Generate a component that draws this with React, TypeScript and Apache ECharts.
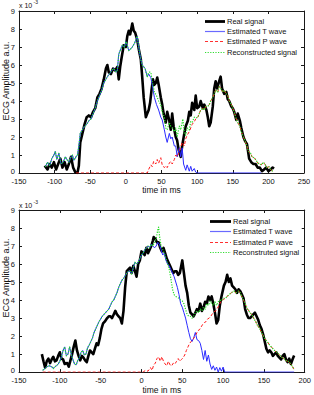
import React, { useEffect, useRef } from "react";
import * as echarts from "echarts";

type P = [number, number];

// ---------- top panel ----------
const topXTicks = { min: -150, max: 250, interval: 50 };
const topReal: P[] = [
  [-114, 0.4], [-110, 0.2], [-107, 0.5], [-104, 0.3], [-101, 0.6], [-98, 0.2], [-95, 0.5], [-92, 0.8],
  [-89, 0.3], [-86, 0.6], [-83, 0.2], [-80, 0.5], [-77, 0.9], [-74, 0.3], [-71, 0.05], [-68, 0.0],
  [-66, 0.4], [-64, 1.7], [-61, 2.2], [-58, 2.7], [-55, 3.1], [-52, 3.2], [-49, 3.1], [-46, 3.4],
  [-43, 3.6], [-40, 4.2], [-37, 4.4], [-34, 4.7], [-31, 5.2], [-28, 5.8], [-26, 6.0], [-24, 5.6],
  [-21, 5.5], [-18, 5.8], [-15, 5.7], [-12, 5.9], [-10, 5.2], [-8, 5.9], [-6, 6.4], [-3, 7.1],
  [0, 7.0], [2, 7.6], [4, 7.9], [6, 7.7], [9, 8.3], [11, 7.9], [13, 7.8], [16, 7.4], [18, 6.9],
  [21, 6.3], [23, 5.3], [25, 4.2], [28, 3.1], [30, 3.3], [32, 3.5], [34, 3.9], [36, 4.6], [38, 5.2],
  [40, 4.9], [42, 5.0], [44, 5.3], [46, 4.9], [49, 4.2], [51, 3.8], [53, 3.3], [56, 2.8], [58, 3.4],
  [61, 2.9], [63, 2.4], [65, 3.3], [67, 2.6], [70, 2.0], [72, 1.8], [74, 1.3], [77, 0.9], [79, 1.5],
  [82, 2.2], [84, 2.6], [87, 2.9], [89, 3.4], [91, 3.2], [93, 3.9], [96, 3.5], [98, 4.3], [100, 3.6],
  [103, 3.7], [105, 4.0], [108, 3.6], [110, 3.8], [113, 3.5], [115, 3.1], [117, 2.6], [119, 2.8],
  [122, 3.7], [124, 4.7], [126, 5.1], [128, 4.7], [131, 5.1], [133, 5.35], [135, 4.7], [138, 4.4],
  [141, 4.5], [143, 4.1], [145, 4.0], [148, 3.7], [150, 3.6], [152, 3.4], [155, 2.95], [157, 3.3],
  [160, 2.9], [162, 2.5], [165, 2.0], [167, 1.8], [170, 1.6], [173, 0.8], [176, 0.6], [179, 0.5],
  [182, 0.5], [185, 0.3], [188, 0.3], [191, 0.1], [194, 0.2], [197, 0.3], [200, 0.1], [203, 0.2],
  [206, 0.3], [208, 0.25],
];
const topTWave: P[] = [
  [-113, 0.35], [-110, 0.6], [-107, 0.4], [-104, 0.8], [-101, 1.0], [-99, 1.2], [-97, 0.75], [-94, 1.1],
  [-91, 0.5], [-88, 0.6], [-85, 0.9], [-82, 0.7], [-80, 0.6], [-77, 0.9], [-75, 1.0], [-73, 0.7],
  [-70, 0.9], [-68, 1.0], [-66, 1.5], [-64, 2.2], [-61, 2.4], [-58, 2.6], [-55, 2.7], [-52, 2.9],
  [-49, 3.0], [-46, 3.3], [-43, 3.6], [-40, 4.0], [-37, 4.3], [-34, 4.6], [-31, 5.0], [-28, 5.2],
  [-26, 5.35], [-23, 5.5], [-20, 5.7], [-17, 5.8], [-14, 5.6], [-12, 5.7], [-10, 6.6], [-7, 6.9],
  [-5, 7.1], [-2, 7.0], [0, 7.3], [2, 7.1], [4, 6.8], [7, 6.9], [9, 7.0], [12, 7.2], [14, 7.4],
  [16, 7.6], [18, 7.0], [21, 6.3], [23, 6.0], [25, 5.9], [27, 5.8], [30, 5.35], [32, 5.5], [35, 5.3],
  [37, 4.9], [40, 4.2], [43, 3.8], [46, 3.5], [49, 3.1], [51, 2.95], [54, 2.4], [56, 2.0], [58, 1.7],
  [61, 2.2], [63, 1.9], [65, 2.0], [68, 1.5], [70, 1.5], [72, 0.9], [75, 1.4], [77, 0.9], [79, 1.4],
  [81, 0.5], [84, 0.15], [86, 0.45], [89, 0.1], [91, 0.37], [93, 0.1], [96, 0.25], [98, 0.05],
  [100, 0], [190, 0],
];
const topPWave: P[] = [
  [-70, 0], [30, 0], [32, 0.2], [35, 0.45], [37, 0.35], [39, 0.65], [42, 0.5], [44, 0.75], [46, 0.55],
  [49, 0.85], [51, 0.45], [54, 0.3], [56, 0.4], [58, 0.3], [61, 0.55], [63, 0.65], [65, 0.5], [68, 0.75],
  [70, 1.0], [72, 0.9], [75, 1.2], [77, 1.45], [79, 1.7], [82, 1.5], [84, 1.9], [86, 2.1], [89, 2.3],
  [91, 2.5], [93, 2.7], [96, 2.85], [98, 3.0], [101, 3.1], [103, 3.3], [105, 3.5], [108, 3.6], [110, 3.5],
  [112, 3.7], [115, 3.7], [117, 3.8], [119, 4.0], [122, 4.2], [124, 4.4], [126, 4.6], [129, 4.5],
  [131, 4.8], [133, 4.7], [136, 4.5], [138, 4.6], [141, 4.4], [143, 4.3], [145, 4.0], [148, 3.8],
  [150, 3.6], [152, 3.4], [155, 3.0], [157, 2.8], [160, 2.6], [162, 2.3], [165, 2.0], [167, 1.8],
  [170, 1.5], [172, 1.2], [175, 1.1], [177, 0.9], [180, 0.85], [183, 0.7], [185, 0.55], [188, 0.5],
  [190, 0.45], [193, 0.6], [195, 0.5], [198, 0.3], [201, 0.35], [203, 0.2], [206, 0.1],
];
const topRecon: P[] = [
  [-113, 0.35], [-110, 0.6], [-107, 0.4], [-104, 0.8], [-101, 1.0], [-99, 1.2], [-97, 0.75], [-94, 1.1],
  [-91, 0.5], [-88, 0.6], [-85, 0.9], [-82, 0.7], [-80, 0.6], [-77, 0.9], [-75, 1.0], [-73, 0.7],
  [-70, 0.9], [-68, 1.0], [-66, 1.5], [-64, 2.2], [-61, 2.4], [-58, 2.6], [-55, 2.7], [-52, 2.9],
  [-49, 3.0], [-46, 3.3], [-43, 3.6], [-40, 4.0], [-37, 4.3], [-34, 4.6], [-31, 5.0], [-28, 5.2],
  [-26, 5.35], [-23, 5.5], [-20, 5.7], [-17, 5.8], [-14, 5.6], [-12, 5.7], [-10, 6.6], [-7, 6.9],
  [-5, 7.1], [-2, 7.0], [0, 7.3], [2, 7.1], [4, 6.8], [7, 6.9], [9, 7.0], [12, 7.2], [14, 7.4],
  [16, 7.6], [18, 7.0], [21, 6.3], [23, 6.0], [25, 5.9], [27, 5.8], [30, 5.35], [32, 5.6], [35, 5.6],
  [37, 5.1], [40, 4.5], [43, 4.3], [46, 4.0], [49, 3.8], [51, 3.4], [54, 3.1], [56, 2.5], [58, 2.4],
  [61, 2.8], [63, 2.6], [65, 2.5], [68, 2.3], [70, 2.5], [72, 2.0], [75, 2.6], [77, 2.4], [80, 3.0],
  [82, 2.2], [84, 2.1], [86, 2.5], [89, 2.4], [91, 2.85], [93, 2.8], [96, 3.1], [98, 3.05], [101, 3.1],
  [103, 3.3], [105, 3.5], [108, 3.6], [110, 3.5], [112, 3.7], [115, 3.7], [117, 3.8], [119, 4.0],
  [122, 4.2], [124, 4.4], [126, 4.6], [129, 4.5], [131, 4.8], [133, 4.7], [136, 4.5], [138, 4.6],
  [141, 4.4], [143, 4.3], [145, 4.0], [148, 3.8], [150, 3.6], [152, 3.4], [155, 3.0], [157, 2.8],
  [160, 2.6], [162, 2.3], [165, 2.0], [167, 1.8], [170, 1.5], [172, 1.2], [175, 1.1], [177, 0.9],
  [180, 0.85], [183, 0.7], [185, 0.55], [188, 0.5], [190, 0.45], [193, 0.6], [195, 0.5], [198, 0.3],
  [201, 0.35], [203, 0.2], [206, 0.1],
];

// ---------- bottom panel ----------
const botXTicks = { min: -150, max: 200, interval: 50 };
const botReal: P[] = [
  [-122, 1.0], [-120, 0.6], [-118, 0.25], [-116, 0.6], [-114, 0.75], [-112, 0.5], [-110, 0.7], [-108, 0.85],
  [-106, 0.6], [-104, 0.65], [-102, 0.9], [-100, 1.1], [-98, 0.75], [-96, 0.7], [-94, 0.45], [-91, 0.5],
  [-89, 0.3], [-87, 0.65], [-85, 1.0], [-83, 1.4], [-81, 1.75], [-79, 1.2], [-77, 0.9], [-75, 0.65],
  [-73, 0.9], [-71, 0.8], [-69, 0.65], [-67, 0.55], [-65, 0.9], [-63, 1.2], [-61, 1.1], [-59, 1.0],
  [-57, 1.3], [-55, 1.6], [-53, 1.5], [-51, 1.9], [-49, 2.4], [-47, 2.7], [-45, 2.8], [-42, 3.0],
  [-40, 3.1], [-38, 3.1], [-36, 3.0], [-34, 3.2], [-32, 3.4], [-30, 3.2], [-28, 3.1], [-26, 3.0],
  [-24, 2.7], [-22, 3.4], [-20, 4.7], [-18, 5.6], [-16, 5.7], [-14, 5.8], [-12, 5.5], [-10, 5.9],
  [-8, 5.6], [-6, 5.3], [-4, 6.0], [-2, 6.2], [0, 6.7], [2, 6.6], [4, 6.5], [6, 6.9], [8, 6.6],
  [10, 6.8], [12, 7.0], [14, 7.3], [15, 7.5], [17, 7.4], [19, 7.2], [21, 7.2], [23, 6.9], [25, 6.7],
  [27, 6.9], [29, 6.6], [31, 6.3], [33, 6.1], [35, 5.9], [37, 5.7], [39, 5.5], [41, 5.6], [43, 5.6],
  [45, 5.4], [47, 5.5], [50, 6.2], [52, 5.5], [54, 4.8], [56, 4.4], [58, 3.7], [60, 3.3], [62, 3.2],
  [64, 3.1], [66, 3.3], [68, 3.5], [70, 3.4], [72, 3.8], [74, 3.4], [76, 3.6], [78, 3.9], [80, 3.8],
  [82, 4.2], [84, 4.0], [86, 4.2], [88, 3.8], [90, 3.3], [92, 2.7], [94, 2.9], [96, 3.7], [98, 4.2],
  [101, 4.8], [103, 5.0], [105, 5.4], [107, 5.0], [109, 5.2], [111, 4.8], [113, 4.7], [115, 4.6],
  [117, 4.4], [119, 4.6], [121, 4.5], [123, 4.3], [125, 4.1], [127, 3.5], [129, 3.2], [131, 3.0],
  [133, 3.0], [135, 3.1], [137, 3.2], [139, 3.3], [141, 3.1], [143, 2.9], [145, 2.6], [147, 2.4],
  [149, 2.1], [151, 1.7], [153, 1.3], [155, 1.1], [157, 1.2], [159, 1.1], [161, 0.9], [163, 1.0],
  [165, 1.1], [167, 0.9], [169, 0.8], [171, 0.7], [173, 0.9], [175, 1.0], [177, 0.7], [179, 0.55],
  [181, 0.75], [183, 0.45], [185, 0.7], [187, 0.92],
];
const botTWave: P[] = [
  [-121, 0.1], [-118, 0.2], [-116, 0.3], [-113, 0.35], [-110, 0.3], [-108, 0.2], [-106, 0.3], [-104, 0.35],
  [-102, 0.45], [-100, 0.6], [-98, 0.85], [-96, 1.2], [-94, 1.4], [-92, 0.9], [-90, 1.0], [-88, 1.4],
  [-86, 1.0], [-84, 0.7], [-82, 0.45], [-80, 0.4], [-78, 0.65], [-76, 0.8], [-74, 1.1], [-72, 1.2],
  [-70, 0.95], [-68, 1.0], [-66, 1.35], [-64, 1.5], [-62, 1.7], [-60, 1.9], [-58, 2.2], [-56, 2.4],
  [-54, 2.6], [-52, 2.8], [-50, 2.95], [-48, 3.1], [-46, 3.2], [-44, 3.3], [-42, 3.4], [-40, 3.5],
  [-38, 3.7], [-36, 3.9], [-34, 4.0], [-32, 4.2], [-30, 4.4], [-28, 4.7], [-26, 4.9], [-24, 5.1],
  [-22, 5.2], [-20, 5.35], [-18, 5.5], [-16, 5.6], [-14, 5.6], [-12, 5.45], [-10, 5.8], [-8, 6.1],
  [-6, 6.0], [-4, 6.1], [-2, 6.3], [0, 6.5], [2, 6.6], [4, 6.8], [6, 6.9], [8, 7.0], [10, 6.9],
  [12, 7.1], [14, 7.0], [16, 6.9], [18, 7.0], [20, 7.2], [22, 7.1], [24, 6.8], [26, 6.5], [28, 6.6],
  [30, 6.2], [32, 6.0], [34, 5.9], [36, 5.7], [38, 5.5], [40, 5.3], [42, 5.0], [44, 4.7], [46, 4.3],
  [48, 3.8], [50, 3.6], [52, 3.3], [54, 3.0], [56, 2.6], [58, 2.2], [60, 1.85], [62, 1.7], [64, 1.9],
  [66, 2.2], [68, 1.8], [70, 1.75], [72, 1.6], [74, 1.2], [76, 0.7], [78, 1.2], [80, 0.6], [82, 0.95],
  [84, 0.45], [86, 0.15], [88, 0.35], [90, 0.1], [92, 0.28], [94, 0.0], [96, 0.25], [98, 0.05],
  [100, 0.28], [102, 0], [187, 0],
];
const botPWave: P[] = [
  [-121, 0], [2, 0], [5, 0.1], [8, 0.05], [11, 0.25], [13, 0.1], [15, 0.4], [17, 0.5], [19, 0.75],
  [21, 0.85], [23, 0.6], [25, 0.85], [27, 0.6], [29, 0.45], [31, 0.35], [33, 0.6], [35, 0.4], [37, 0.35],
  [39, 0.5], [41, 0.45], [43, 0.6], [45, 0.75], [47, 0.6], [49, 0.7], [51, 0.8], [53, 0.95], [55, 1.2],
  [57, 1.4], [59, 1.6], [61, 1.7], [63, 1.8], [65, 1.95], [67, 2.1], [69, 2.3], [71, 2.35], [73, 2.5],
  [75, 2.65], [77, 2.75], [79, 2.8], [81, 2.95], [83, 3.0], [85, 3.1], [87, 3.25], [89, 3.35], [91, 3.4],
  [93, 3.55], [95, 3.7], [97, 3.9], [99, 3.95], [101, 4.05], [104, 4.15], [107, 4.3], [110, 4.4],
  [113, 4.5], [116, 4.4], [119, 4.5], [121, 4.4], [123, 4.2], [126, 3.9], [128, 3.7], [130, 3.5],
  [133, 3.3], [135, 3.2], [138, 2.95], [140, 2.8], [142, 2.6], [145, 2.4], [147, 2.2], [150, 1.95],
  [152, 1.8], [154, 1.7], [157, 1.5], [159, 1.4], [162, 1.25], [164, 1.15], [166, 1.1], [169, 0.95],
  [171, 0.85], [173, 0.8], [176, 0.7], [178, 0.6], [180, 0.6], [183, 0.45], [185, 0.3], [187, 0.15],
];
const botRecon: P[] = [
  [-121, 0.1], [-118, 0.2], [-116, 0.3], [-113, 0.35], [-110, 0.3], [-108, 0.2], [-106, 0.3], [-104, 0.35],
  [-102, 0.45], [-100, 0.6], [-98, 0.85], [-96, 1.2], [-94, 1.4], [-92, 0.9], [-90, 1.0], [-88, 1.4],
  [-86, 1.0], [-84, 0.7], [-82, 0.45], [-80, 0.4], [-78, 0.65], [-76, 0.8], [-74, 1.1], [-72, 1.2],
  [-70, 0.95], [-68, 1.0], [-66, 1.35], [-64, 1.5], [-62, 1.7], [-60, 1.9], [-58, 2.2], [-56, 2.4],
  [-54, 2.6], [-52, 2.8], [-50, 2.95], [-48, 3.1], [-46, 3.2], [-44, 3.3], [-42, 3.4], [-40, 3.5],
  [-38, 3.7], [-36, 3.9], [-34, 4.0], [-32, 4.2], [-30, 4.4], [-28, 4.7], [-26, 4.9], [-24, 5.1],
  [-22, 5.2], [-20, 5.35], [-18, 5.5], [-16, 5.6], [-14, 5.6], [-12, 5.45], [-10, 5.8], [-8, 6.1],
  [-6, 6.0], [-4, 6.1], [-2, 6.3], [0, 6.5], [2, 6.6], [4, 6.8], [6, 6.9], [8, 7.0], [10, 6.9],
  [12, 7.1], [14, 7.0], [16, 7.2], [18, 7.4], [20, 7.9], [21, 8.05], [22, 7.6], [24, 7.0], [26, 6.8],
  [28, 6.6], [30, 6.3], [32, 6.0], [34, 5.7], [36, 5.2], [38, 4.6], [40, 4.3], [42, 4.2], [44, 4.15],
  [46, 4.1], [48, 4.0], [50, 3.95], [52, 3.8], [54, 3.5], [56, 3.2], [58, 3.1], [60, 3.1], [62, 3.0],
  [64, 3.1], [66, 3.3], [68, 3.4], [70, 3.3], [72, 3.5], [74, 3.4], [76, 3.6], [78, 3.5], [80, 3.8],
  [82, 3.7], [84, 3.95], [86, 3.8], [88, 3.7], [90, 3.9], [92, 3.7], [94, 3.9], [96, 4.0], [98, 3.95],
  [100, 4.1], [102, 4.1], [104, 4.15], [107, 4.3], [110, 4.4], [113, 4.5], [116, 4.4], [119, 4.5],
  [121, 4.4], [123, 4.2], [126, 3.9], [128, 3.7], [130, 3.5], [133, 3.3], [135, 3.2], [138, 2.95],
  [140, 2.8], [142, 2.6], [145, 2.4], [147, 2.2], [150, 1.95], [152, 1.8], [154, 1.7], [157, 1.5],
  [159, 1.4], [162, 1.25], [164, 1.15], [166, 1.1], [169, 0.95], [171, 0.85], [173, 0.8], [176, 0.7],
  [178, 0.6], [180, 0.6], [183, 0.45], [185, 0.3], [187, 0.15],
];

const yTicks = { min: 0, max: 9, interval: 1 };
const topLegend = ["Real signal", "Estimated T wave", "Estimated P wave", "Reconstructed signal"];
const botLegend = ["Real signal", "Estimated T wave", "Estimated P wave", "Reconstruted signal"];
const xTitle = "time in ms";
const yTitle = "ECG Amplitude a.u.";

const FONT = "'Liberation Sans', Arial, Helvetica, sans-serif";
const AX = "#1a1a1a";

const styles = [
  { color: "#000000", width: 2.6, type: "solid" as any, legend: "#000000" },
  { color: "#2b2bff", width: 1, type: "solid" as any, legend: "#6a6aff" },
  { color: "#ff1a1a", width: 1, type: [3, 2] as any, legend: "#ff3030" },
  { color: "#22dd22", width: 1.2, type: [1.2, 1.4] as any, legend: "#33dd33" },
];

export default function App() {
  const ref = useRef<HTMLDivElement>(null);
  useEffect(() => {
    const chart = echarts.init(ref.current!, null, { renderer: "svg" });
    const grids = [
      { left: 19, top: 11, width: 285, height: 162 },
      { left: 19, top: 210, width: 287, height: 163 },
    ];
    const xr = [topXTicks, botXTicks];
    const xAxis: any[] = [];
    const yAxis: any[] = [];
    [0, 1].forEach((g) => {
      xAxis.push({
        type: "value", gridIndex: g, position: "bottom", ...xr[g],
        axisLine: { show: true, onZero: false, lineStyle: { color: AX, width: 1 } },
        axisTick: { show: true, inside: true, length: 3, lineStyle: { color: AX } },
        axisLabel: { show: true, fontSize: 7.5, lineHeight: 8, color: "#111", margin: 4, fontFamily: FONT },
        splitLine: { show: false },
        name: xTitle, nameLocation: "middle", nameGap: g === 0 ? 12.5 : 11.5,
        nameTextStyle: { fontSize: 8.5, color: "#111", fontFamily: FONT },
      });
      xAxis.push({
        type: "value", gridIndex: g, position: "top", ...xr[g],
        axisLine: { show: true, onZero: false, lineStyle: { color: AX, width: 1 } },
        axisTick: { show: true, inside: true, length: 3, lineStyle: { color: AX } },
        axisLabel: { show: false }, splitLine: { show: false },
      });
      yAxis.push({
        type: "value", gridIndex: g, position: "left", ...yTicks,
        axisLine: { show: true, onZero: false, lineStyle: { color: AX, width: 1 } },
        axisTick: { show: true, inside: true, length: 3, lineStyle: { color: AX } },
        axisLabel: {
          show: true, fontSize: 7.5, lineHeight: 7, color: "#111", margin: 4, fontFamily: FONT,
          formatter: (v: number) => (v === 0 ? "{z|0}" : String(v)),
          rich: { z: { fontSize: 7.5, lineHeight: 7, color: "#111", fontFamily: FONT, padding: [0, 0, 3, 0] } },
        },
        splitLine: { show: false },
      });
      yAxis.push({
        type: "value", gridIndex: g, position: "right", ...yTicks,
        axisLine: { show: true, onZero: false, lineStyle: { color: AX, width: 1 } },
        axisTick: { show: true, inside: true, length: 3, lineStyle: { color: AX } },
        axisLabel: { show: false }, splitLine: { show: false },
      });
    });

    const panels = [
      { data: [topReal, topTWave, topPWave, topRecon], names: topLegend },
      { data: [botReal, botTWave, botPWave, botRecon], names: botLegend },
    ];
    const series: any[] = [];
    panels.forEach((p, g) => {
      p.data.forEach((d, i) => {
        series.push({
          type: "line", name: p.names[i] + (g ? " " : ""), xAxisIndex: g * 2, yAxisIndex: g * 2,
          data: d, showSymbol: false, symbol: "none", silent: true,
          lineStyle: { color: styles[i].color, width: styles[i].width, type: styles[i].type, join: "round" },
        });
      });
    });

    const graphic: any[] = [];
    const legendPos = [
      { x1: 205, x2: 225, tx: 227, rows: [21.5, 31.5, 41.5, 52.5] },
      { x1: 210, x2: 231, tx: 233, rows: [221.5, 231.5, 242.5, 252.5] },
    ];
    legendPos.forEach((lp, g) => {
      panels[g].names.forEach((nm, i) => {
        const s = styles[i];
        graphic.push({
          type: "polyline", id: `lg-line-${g}-${i}`, z: 100,
          shape: { points: [[lp.x1, lp.rows[i]], [lp.x2, lp.rows[i]]] },
          style: {
            fill: null,
            stroke: s.legend, lineWidth: i === 0 ? 2.8 : 1.2,
            lineDash: Array.isArray(s.type) ? s.type.slice() : null,
          },
        });
        graphic.push({
          type: "text", id: `lg-text-${g}-${i}`, z: 100, x: lp.tx, y: lp.rows[i],
          style: { text: nm, fontSize: 7.5, fontFamily: FONT, fill: "#111", align: "left", verticalAlign: "middle" },
        });
      });
    });
    const yTitleY = [81, 278];
    const expY = [5, 205];
    [0, 1].forEach((g) => {
      graphic.push({
        type: "text", id: `ytitle-${g}`, x: 6, y: yTitleY[g], rotation: Math.PI / 2,
        style: { text: yTitle, fontSize: 9, fontFamily: FONT, fill: "#111", align: "center", verticalAlign: "middle" },
      });
      graphic.push({
        type: "text", id: `exp-${g}`, x: 19, y: expY[g],
        style: { text: "x 10", fontSize: 7, fontFamily: FONT, fill: "#111", align: "left", verticalAlign: "middle" },
      });
      graphic.push({
        type: "text", id: `exps-${g}`, x: 33.5, y: expY[g] - 3.5,
        style: { text: "-3", fontSize: 5, fontFamily: FONT, fill: "#111", align: "left", verticalAlign: "middle" },
      });
    });

    chart.setOption({
      animation: false,
      backgroundColor: "#ffffff",
      textStyle: { fontFamily: FONT },
      grid: grids,
      xAxis,
      yAxis,
      series,
      graphic,
    });
    return () => chart.dispose();
  }, []);
  return (
    <div
      ref={ref}
      style={{ position: "fixed", left: 0, top: 0, width: 314, height: 395, background: "#fff" }}
    />
  );
}
